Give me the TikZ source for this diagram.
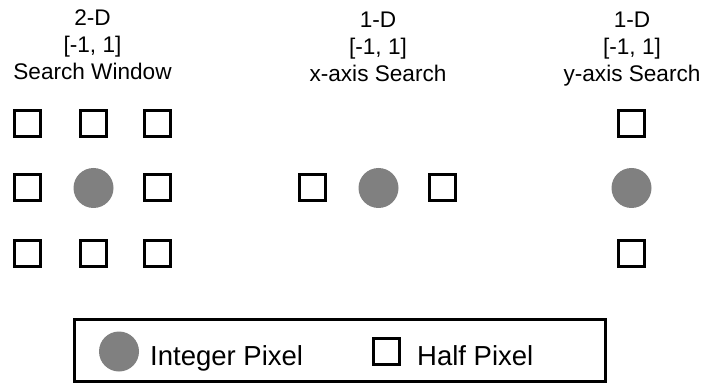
\documentclass[tikz,border=0pt]{standalone}
\usepackage{fontspec}
\setmainfont{Liberation Sans}
\definecolor{pixgray}{RGB}{128,128,128}
\begin{document}
\begin{tikzpicture}[x=1pt,y=-1pt,
  halfpx/.style={rectangle, draw=black, line width=3pt, fill=white, minimum size=26pt, inner sep=0pt},
  intpx/.style={circle, fill=pixgray, minimum size=40pt, inner sep=0pt},
  titletext/.style={align=center, anchor=north, inner sep=0pt, font=\fontsize{22.6}{27}\selectfont},
  legendtext/.style={anchor=base west, inner sep=0pt, font=\fontsize{27.5}{33}\selectfont},
  legendbox/.style={rectangle, draw=black, line width=3pt, minimum width=531pt, minimum height=62pt, inner sep=0pt}]
\useasboundingbox (0,0) rectangle (703,387);

% titles
\node[titletext] (t2d) at (92.5,10) {2-D\\{}[-1, 1]\\Search Window};
\node[titletext] (tx) at (378,12) {1-D\\{}[-1, 1]\\x-axis Search};
\node[titletext] (ty) at (632,12) {1-D\\{}[-1, 1]\\y-axis Search};

% 2-D window
\node[halfpx] (a11) at (27.5,123.5) {};
\node[halfpx] (a12) at (93.5,123.5) {};
\node[halfpx] (a13) at (157.5,123.5) {};
\node[halfpx] (a21) at (27.5,188) {};
\node[intpx]  (a22) at (93.5,188) {};
\node[halfpx] (a23) at (157.5,188) {};
\node[halfpx] (a31) at (27.5,253.5) {};
\node[halfpx] (a32) at (93.5,253.5) {};
\node[halfpx] (a33) at (157.5,253.5) {};

% x-axis search
\node[halfpx] (x1) at (312.5,188) {};
\node[intpx]  (x2) at (378.5,188) {};
\node[halfpx] (x3) at (442.5,188) {};

% y-axis search
\node[halfpx] (y1) at (631.5,123.5) {};
\node[intpx]  (y2) at (631.5,188) {};
\node[halfpx] (y3) at (631.5,253.5) {};

% legend
\node[legendbox] (legend) at (340,350.5) {};
\node[intpx] (lint) at (119,351.5) {};
\node[legendtext] (lintt) at (150,365) {Integer Pixel};
\node[halfpx] (lhalf) at (386,351) {};
\node[legendtext] (lhalft) at (417,365) {Half Pixel};
\end{tikzpicture}
\end{document}
